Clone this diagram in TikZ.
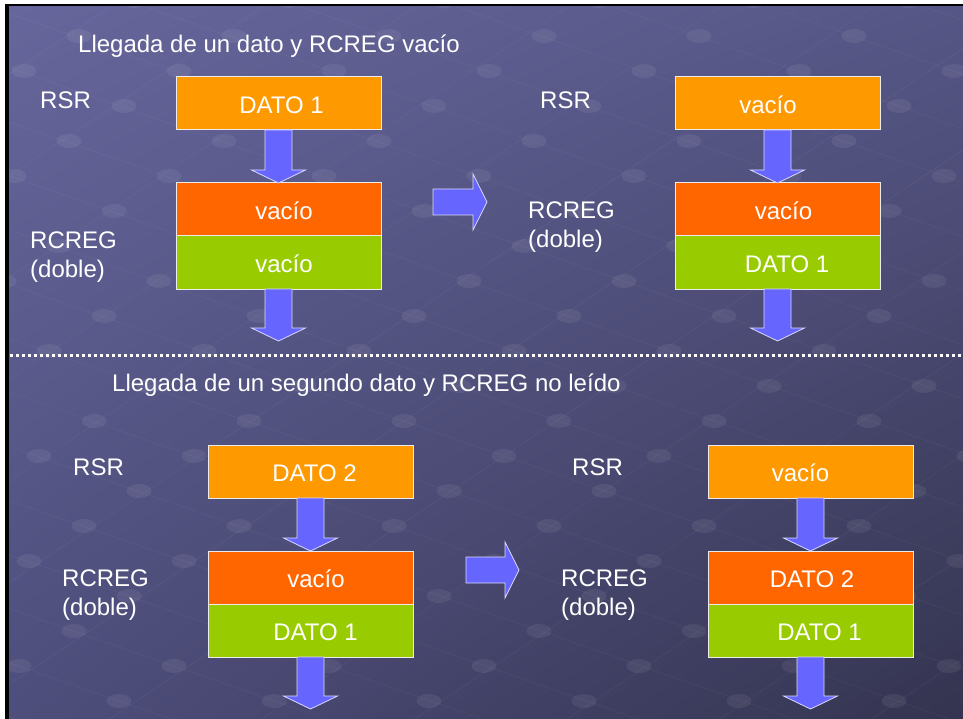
\documentclass[tikz,border=0pt]{standalone}
\usepackage{fontspec}
\setmainfont{Liberation Sans}
\usetikzlibrary{positioning,calc,shadings}

\definecolor{fondoSI}{RGB}{102,102,156}
\definecolor{fondoSD}{RGB}{86,86,134}
\definecolor{fondoII}{RGB}{78,78,124}
\definecolor{fondoID}{RGB}{52,52,80}
\definecolor{naranja}{RGB}{255,153,0}
\definecolor{rojizo}{RGB}{255,102,0}
\definecolor{verde}{RGB}{153,204,0}
\definecolor{azulflecha}{RGB}{102,102,255}

\tikzset{
  registro/.style={minimum width=205pt, minimum height=53pt, inner sep=0pt,
    outer sep=0pt, draw=white!85!gray, line width=1pt, text=white,
    text height=20pt, text depth=0pt, font=\fontsize{24}{29}\selectfont},
  rsrbox/.style={registro, fill=naranja},
  altobox/.style={registro, fill=rojizo},
  bajobox/.style={registro, fill=verde},
  etiqueta/.style={text=white, align=left, anchor=west, inner sep=0pt,
    font=\fontsize{24}{29}\selectfont},
  flecha/.style={fill=azulflecha, draw=white!75!azulflecha, line width=0.8pt},
  punteado/.style={white, line width=3pt, dash pattern=on 3pt off 3pt},
  bolita/.style={fill=white, opacity=0.065},
  trama/.style={white, opacity=0.04, line width=0.8pt},
}

% texto corrido a la derecha / izquierda dentro de la caja
\newcommand{\dcha}[2]{\hspace*{#1}#2}
\newcommand{\izda}[2]{#2\hspace*{#1}}
% flecha gruesa hacia abajo entre dos puntos
\newcommand{\flechaabajo}[2]{%
  \path[flecha] let \p1=(#1), \p2=(#2) in
    (\x1-13.5pt,\y1) -- (\x1+13.5pt,\y1) -- (\x1+13.5pt,\y2+13pt)
    -- (\x1+27pt,\y2+13pt) -- (\x1,\y2) -- (\x1-27pt,\y2+13pt)
    -- (\x1-13.5pt,\y2+13pt) -- cycle;}
% flecha gruesa hacia la derecha
\newcommand{\flechaderecha}[2]{%
  \path[flecha] let \p1=(#1), \p2=(#2) in
    (\x1,\y1+13pt) -- (\x2-14pt,\y1+13pt) -- (\x2-14pt,\y1+28pt)
    -- (\x2,\y1) -- (\x2-14pt,\y1-28pt) -- (\x2-14pt,\y1-13pt)
    -- (\x1,\y1-13pt) -- cycle;}

\begin{document}
\begin{tikzpicture}[x=1pt, y=-1pt]
  % fondo
  \fill[white] (0,0) rectangle (963,719);
  \fill[black] (5,4) rectangle (963,719);
  \shade[upper left=fondoSI, upper right=fondoSD, lower left=fondoII,
    lower right=fondoID] (9,7) rectangle (963,719);
  \begin{scope}
    \clip (9,7) rectangle (963,719);
    \foreach \i in {-10,...,13} {
      \draw[trama] (504+55*\i-950,456-35*\i-330) -- (504+55*\i+950,456-35*\i+330);
    }
    \foreach \j in {-10,...,8} {
      \draw[trama] (504+100*\j-660,456+35*\j+440) -- (504+100*\j+660,456+35*\j-440);
    }
    \foreach \i in {-10,...,13} {
      \foreach \j in {-10,...,8} {
        \fill[bolita] (504+55*\i+100*\j,456-35*\i+35*\j) ellipse (12.5 and 7);
      }
    }
  \end{scope}
  \useasboundingbox (0,0) rectangle (963,719);

  % primer caso
  \node[etiqueta] (tit1) at (78,46) {Llegada de un dato y RCREG vacío};
  \node[rsrbox] (rsr1) at (278.5,103.5) {\dcha{6pt}{DATO 1}};
  \node[altobox, below=53pt of rsr1] (alto1) {\dcha{11pt}{vacío}};
  \node[bajobox, below=0pt of alto1] (bajo1) {\dcha{11pt}{vacío}};
  \coordinate[below=52pt of bajo1] (sal1);
  \node[etiqueta] (lrsr1) at (40,100) {RSR};
  \node[etiqueta] (lreg1) at (30,257) {RCREG\\(doble)};
  \flechaabajo{rsr1.south}{alto1.north}
  \flechaabajo{bajo1.south}{sal1}

  \coordinate (ini1) at (433,202);
  \coordinate (fin1) at (487,202);
  \flechaderecha{ini1}{fin1}

  \node[rsrbox] (rsr2) at (777.5,103.5) {\izda{19pt}{vacío}};
  \node[altobox, below=53pt of rsr2] (alto2) {\dcha{12pt}{vacío}};
  \node[bajobox, below=0pt of alto2] (bajo2) {\dcha{19pt}{DATO 1}};
  \coordinate[below=52pt of bajo2] (sal2);
  \node[etiqueta] (lrsr2) at (540,100) {RSR};
  \node[etiqueta] (lreg2) at (528,227) {RCREG\\(doble)};
  \flechaabajo{rsr2.south}{alto2.north}
  \flechaabajo{bajo2.south}{sal2}

  \draw[punteado] (10,355) -- (963,355);

  % segundo caso
  \node[etiqueta] (tit2) at (112,385) {Llegada de un segundo dato y RCREG no leído};
  \node[rsrbox] (rsr3) at (310.5,471.5) {\dcha{8pt}{DATO 2}};
  \node[altobox, below=53pt of rsr3] (alto3) {\dcha{11pt}{vacío}};
  \node[bajobox, below=0pt of alto3] (bajo3) {\dcha{10pt}{DATO 1}};
  \coordinate[below=52pt of bajo3] (sal3);
  \node[etiqueta] (lrsr3) at (73,467) {RSR};
  \node[etiqueta] (lreg3) at (62,595) {RCREG\\(doble)};
  \flechaabajo{rsr3.south}{alto3.north}
  \flechaabajo{bajo3.south}{sal3}

  \coordinate (ini2) at (466,570);
  \coordinate (fin2) at (519,570);
  \flechaderecha{ini2}{fin2}

  \node[rsrbox] (rsr4) at (810.5,471.5) {\izda{20pt}{vacío}};
  \node[altobox, below=53pt of rsr4] (alto4) {\dcha{3pt}{DATO 2}};
  \node[bajobox, below=0pt of alto4] (bajo4) {\dcha{18pt}{DATO 1}};
  \coordinate[below=52pt of bajo4] (sal4);
  \node[etiqueta] (lrsr4) at (572,467) {RSR};
  \node[etiqueta] (lreg4) at (561,595) {RCREG\\(doble)};
  \flechaabajo{rsr4.south}{alto4.north}
  \flechaabajo{bajo4.south}{sal4}
\end{tikzpicture}
\end{document}
